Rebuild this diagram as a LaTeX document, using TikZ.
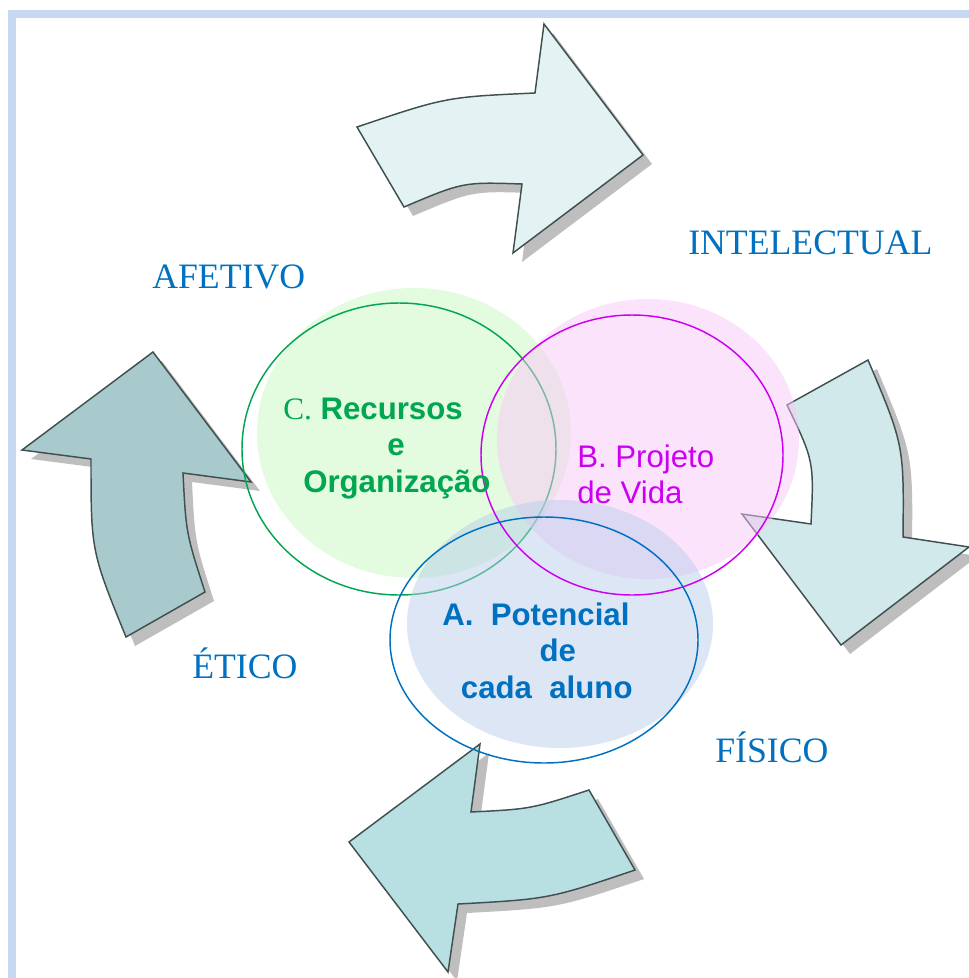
\documentclass[tikz,border=0pt]{standalone}
\usepackage{fontspec}
\setmainfont{Liberation Serif}
\setsansfont{Liberation Sans}
\usepackage{tikz}

\definecolor{framebl}{RGB}{198,217,240}
\definecolor{arrowline}{RGB}{64,80,80}
\definecolor{shadowgr}{RGB}{190,190,190}
\definecolor{labelbl}{RGB}{0,112,192}
\definecolor{recgreen}{RGB}{0,166,80}
\definecolor{vidamag}{RGB}{204,0,240}
\definecolor{fillgreen}{RGB}{199,247,191}
\definecolor{fillmag}{RGB}{249,199,249}
\definecolor{fillblue}{RGB}{185,205,233}

\tikzset{
  arrowshape/.style={draw=arrowline, line width=1.1pt, line join=miter},
  arrowshadow/.style={fill=shadowgr, shift={(9,9)}},
  label/.style={anchor=base west, inner sep=0pt, text=labelbl, font=\fontsize{26.8}{30}\selectfont},
  circtext/.style={anchor=base west, inner sep=0pt, font=\fontsize{23.4}{27.4}\selectfont\sffamily},
}

\begin{document}
\begin{tikzpicture}[x=0.75pt,y=0.75pt,yscale=-1,xscale=1]
\useasboundingbox (0,0) rectangle (969,978);

%Frame
\draw [color=framebl, line width=6pt]  (12,978) -- (12,14) -- (969,14) ;

%Curved Arrow top
\fill [arrowshadow]  (357,127) -- (404,207) .. controls (463,182) .. (522,184) -- (513,253) -- (643,155) -- (544,24) -- (535,93) .. controls (446,97) .. (357,127) -- cycle ;
\draw [arrowshape, fill={rgb, 255:red, 227; green, 243; blue, 243 }]  (357,127) -- (404,207) .. controls (463,182) .. (522,184) -- (513,253) -- (643,155) -- (544,24) -- (535,93) .. controls (446,97) .. (357,127) -- cycle ;
%Curved Arrow right
\fill [arrowshadow]  (787,405) -- (868,360) .. controls (904,445) .. (903,537) -- (969,547) -- (841,645) -- (742,514) -- (811,524) .. controls (814,461) .. (787,405) -- cycle ;
\draw [arrowshape, fill={rgb, 255:red, 209; green, 233; blue, 234 }]  (787,405) -- (868,360) .. controls (904,445) .. (903,537) -- (969,547) -- (841,645) -- (742,514) -- (811,524) .. controls (814,461) .. (787,405) -- cycle ;
%Curved Arrow bottom
\fill [arrowshadow]  (589,790) -- (635,870) .. controls (549,899) .. (458,904) -- (448,972) -- (349,842) -- (480,744) -- (471,812) .. controls (531,809) .. (589,790) -- cycle ;
\draw [arrowshape, fill={rgb, 255:red, 184; green, 224; blue, 227 }]  (589,790) -- (635,870) .. controls (549,899) .. (458,904) -- (448,972) -- (349,842) -- (480,744) -- (471,812) .. controls (531,809) .. (589,790) -- cycle ;
%Curved Arrow left
\fill [arrowshadow]  (126,637) -- (205,592) .. controls (186,533) .. (183,473) -- (251,482) -- (153,352) -- (22,450) -- (91,459) .. controls (91,551) .. (126,637) -- cycle ;
\draw [arrowshape, fill={rgb, 255:red, 168; green, 202; blue, 204 }]  (126,637) -- (205,592) .. controls (186,533) .. (183,473) -- (251,482) -- (153,352) -- (22,450) -- (91,459) .. controls (91,551) .. (126,637) -- cycle ;

%Circles
\fill [fillgreen, fill opacity=0.5]  (414,433) ellipse [x radius=157, y radius=145] ;
\draw [color=recgreen, line width=1.1pt]  (399,449) ellipse [x radius=157, y radius=146] ;
\fill [fillmag, fill opacity=0.5]  (648,439) ellipse [x radius=151, y radius=140] ;
\fill [fillblue, fill opacity=0.5]  (560,624) ellipse [x radius=153, y radius=124] ;
\draw [color=vidamag, line width=1.1pt]  (632,455) ellipse [x radius=151, y radius=140] ;
\draw [color=labelbl, line width=1.1pt]  (544,640) ellipse [x radius=154, y radius=123] ;

% Text Node
\node (recursos) [circtext, text=recgreen] at (283,419) {\begin{tabular}[t]{@{}l@{}}{\rmfamily C.}~\textbf{Recursos}\\\hspace*{78pt}\textbf{e}\\\hspace*{15pt}\textbf{Organização}\end{tabular}};
% Text Node
\node (projeto) [circtext, text=vidamag] at (577,467) {\begin{tabular}[t]{@{}l@{}}B. Projeto\\de Vida\end{tabular}};
% Text Node
\node (potencial) [circtext, text=labelbl, font=\fontsize{23.4}{27.4}\selectfont\sffamily\bfseries] at (442,625) {\begin{tabular}[t]{@{}l@{}}A.\ \ Potencial\\\hspace*{73pt}de\\\hspace*{14pt}cada\ \ aluno\end{tabular}};
% Text Node
\node (intelectual) [label] at (688,254) {INTELECTUAL};
% Text Node
\node (afetivo) [label] at (152,288) {AFETIVO};
% Text Node
\node (etico) [label] at (192,678) {ÉTICO};
% Text Node
\node (fisico) [label] at (715,762) {FÍSICO};
\end{tikzpicture}
\end{document}
